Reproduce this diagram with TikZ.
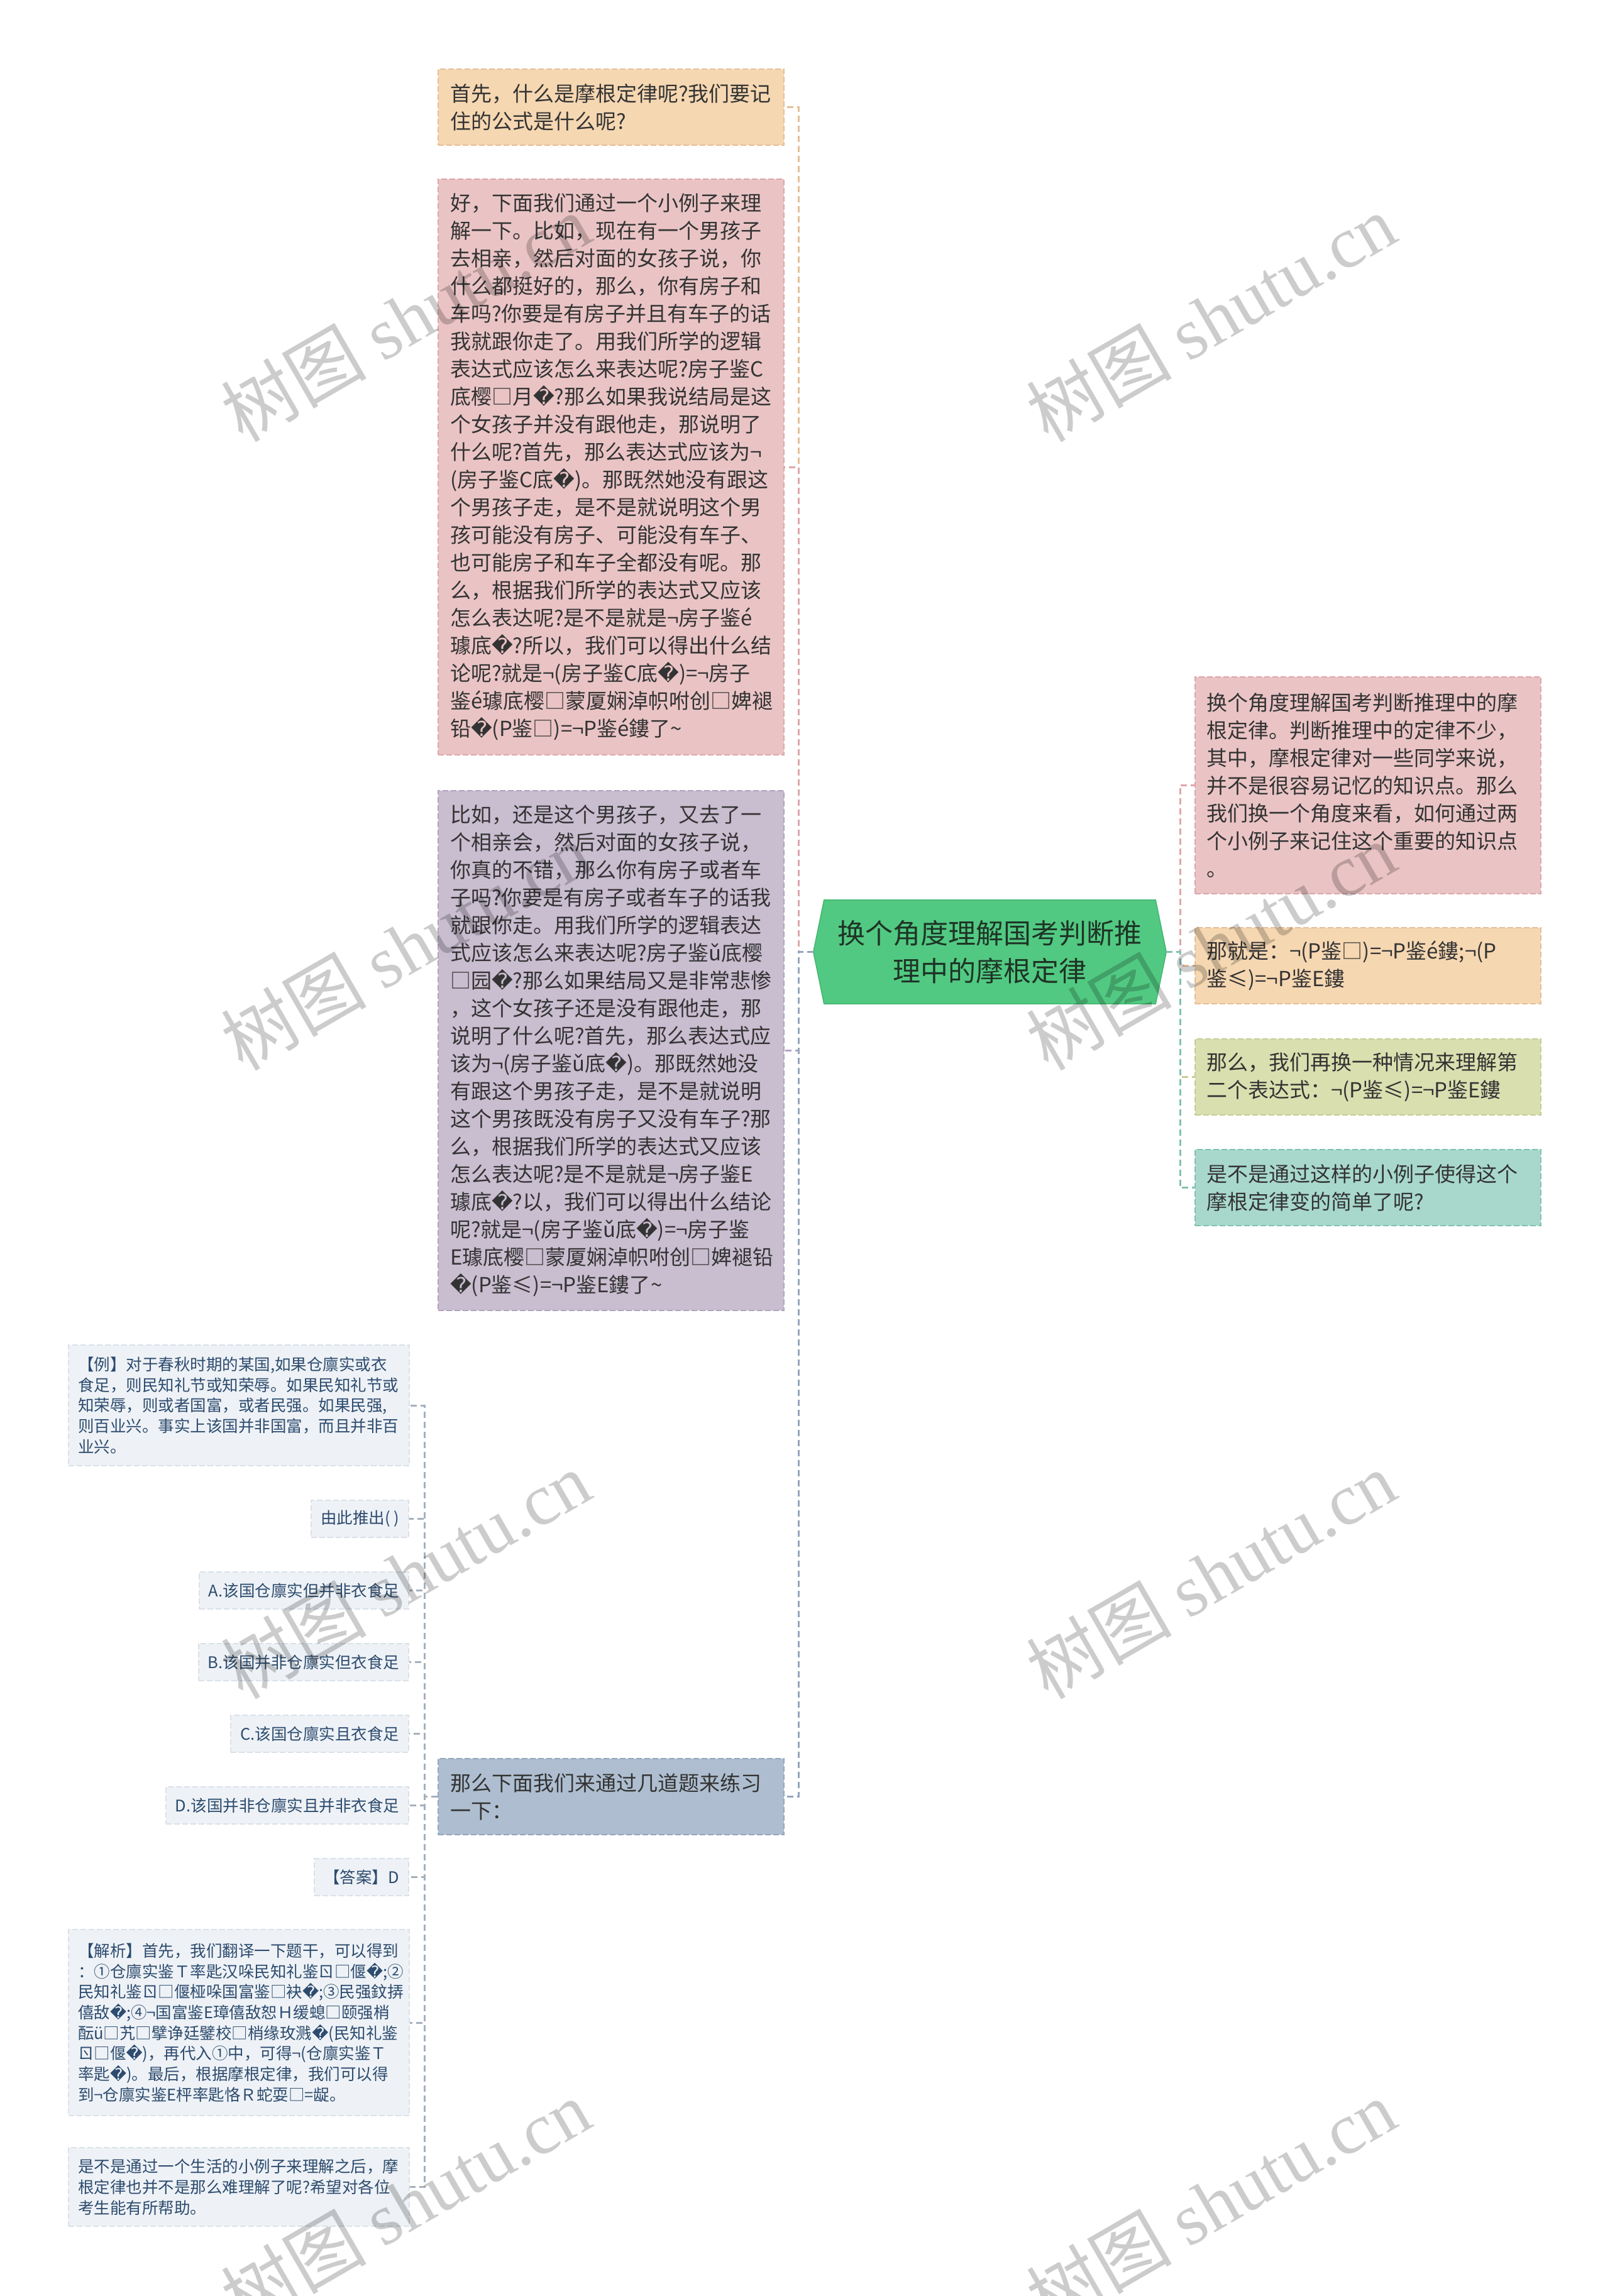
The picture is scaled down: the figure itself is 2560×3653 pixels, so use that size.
\documentclass[tikz,border=0pt]{standalone}
\usepackage{fontspec}
\setmainfont{Noto Sans CJK SC}
\newfontfamily\badfont{DejaVu Sans}
\newfontfamily\wmfont{Liberation Serif}
\newcommand\badch{{\badfont\char"FFFD}}
\usetikzlibrary{backgrounds}

\definecolor{peachfill}{RGB}{245,215,178}
\definecolor{peachline}{RGB}{230,190,150}
\definecolor{pinkfill}{RGB}{234,196,197}
\definecolor{pinkline}{RGB}{222,166,168}
\definecolor{lilacfill}{RGB}{201,189,208}
\definecolor{lilacline}{RGB}{178,163,190}
\definecolor{bluefill}{RGB}{174,190,208}
\definecolor{blueline}{RGB}{148,166,188}
\definecolor{khakifill}{RGB}{218,223,176}
\definecolor{khakiline}{RGB}{198,204,148}
\definecolor{tealfill}{RGB}{168,216,204}
\definecolor{tealline}{RGB}{128,193,178}
\definecolor{mistfill}{RGB}{238,242,246}
\definecolor{mistline}{RGB}{218,225,233}
\definecolor{mistlink}{RGB}{165,176,188}
\definecolor{mistink}{RGB}{45,75,110}
\definecolor{rootfill}{RGB}{82,201,130}
\definecolor{rootline}{RGB}{66,182,112}
\definecolor{rootink}{RGB}{30,52,38}
\definecolor{bodyink}{RGB}{51,51,51}

\tikzset{
  topic/.style={fill=#1fill, draw=#1line, line width=2pt, dash pattern=on 9pt off 4pt,
    inner xsep=19pt, inner ysep=0pt, text width=512pt, minimum width=550pt,
    align=left, text=bodyink, font=\fontsize{33}{44}\selectfont},
  leaf/.style={fill=mistfill, draw=mistline, line width=2pt, dash pattern=on 9pt off 4pt,
    inner xsep=15pt, inner ysep=0pt, align=left, text=mistink,
    font=\fontsize{25.5}{32.7}\selectfont},
  leafwide/.style={leaf, text width=512pt, minimum width=542pt},
  leafline/.style={leaf, anchor=east, minimum height=59pt},
  rootnode/.style={minimum width=561pt, minimum height=165pt, inner sep=0pt,
    align=center, text=rootink, font=\fontsize{44}{60}\selectfont},
  link/.style={draw=#1, line width=3pt, dash pattern=on 10pt off 6pt},
  wmark/.style={rotate=30, inner sep=0pt, text=black, text opacity=0.2,
    font=\fontsize{116}{116}\selectfont}
}

\begin{document}
\begin{tikzpicture}[x=1pt,y=-1pt]
\useasboundingbox (0,0) rectangle (2560,3653);

% Text Node
\node[rootnode] (root) at (1574.5,1514.5) {换个角度理解国考判断推\\理中的摩根定律};

% Text Node
\node[topic=peach, minimum height=121pt] (n1) at (972,170.5) {首先，什么是摩根定律呢?我们要记\\住的公式是什么呢?};
% Text Node
\node[topic=pink, minimum height=916pt] (n2) at (972,743) {好，下面我们通过一个小例子来理\\
解一下。比如，现在有一个男孩子\\
去相亲，然后对面的女孩子说，你\\
什么都挺好的，那么，你有房子和\\
车吗?你要是有房子并且有车子的话\\
我就跟你走了。用我们所学的逻辑\\
表达式应该怎么来表达呢?房子鉴C\\
底樱□月\badch?那么如果我说结局是这\\
个女孩子并没有跟他走，那说明了\\
什么呢?首先，那么表达式应该为¬\\
(房子鉴C底\badch)。那既然她没有跟这\\
个男孩子走，是不是就说明这个男\\
孩可能没有房子、可能没有车子、\\
也可能房子和车子全都没有呢。那\\
么，根据我们所学的表达式又应该\\
怎么表达呢?是不是就是¬房子鉴é\\
璩底\badch?所以，我们可以得出什么结\\
论呢?就是¬(房子鉴C底\badch)=¬房子\\
鉴é璩底樱□蒙厦娴淖帜咐创□婢褪\\
铅\badch(P鉴□)=¬P鉴é鏤了\textasciitilde};
% Text Node
\node[topic=lilac, minimum height=827pt] (n3) at (972,1671.5) {比如，还是这个男孩子，又去了一\\
个相亲会，然后对面的女孩子说，\\
你真的不错，那么你有房子或者车\\
子吗?你要是有房子或者车子的话我\\
就跟你走。用我们所学的逻辑表达\\
式应该怎么来表达呢?房子鉴ǔ底樱\\
□园\badch?那么如果结局又是非常悲惨\\
，这个女孩子还是没有跟他走，那\\
说明了什么呢?首先，那么表达式应\\
该为¬(房子鉴ǔ底\badch)。那既然她没\\
有跟这个男孩子走，是不是就说明\\
这个男孩既没有房子又没有车子?那\\
么，根据我们所学的表达式又应该\\
怎么表达呢?是不是就是¬房子鉴E\\
璩底\badch?以，我们可以得出什么结论\\
呢?就是¬(房子鉴ǔ底\badch)=¬房子鉴\\
E璩底樱□蒙厦娴淖帜咐创□婢褪铅\\
\badch(P鉴≤)=¬P鉴E鏤了\textasciitilde};
% Text Node
\node[topic=blue, minimum height=121pt] (n4) at (972,2858.5) {那么下面我们来通过几道题来练习\\一下：};

% Text Node
\node[topic=pink, minimum height=345pt] (r1) at (2175.5,1249.5) {换个角度理解国考判断推理中的摩\\根定律。判断推理中的定律不少，\\其中，摩根定律对一些同学来说，\\并不是很容易记忆的知识点。那么\\我们换一个角度来看，如何通过两\\个小例子来记住这个重要的知识点\\。};
% Text Node
\node[topic=peach, minimum height=121pt] (r2) at (2175.5,1536.5) {那就是：¬(P鉴□)=¬P鉴é鏤;¬(P\\鉴≤)=¬P鉴E鏤};
% Text Node
\node[topic=khaki, minimum height=121pt] (r3) at (2175.5,1713.5) {那么，我们再换一种情况来理解第\\二个表达式：¬(P鉴≤)=¬P鉴E鏤};
% Text Node
\node[topic=teal, minimum height=121pt] (r4) at (2175.5,1889.5) {是不是通过这样的小例子使得这个\\摩根定律变的简单了呢?};

% Text Node
\node[leafwide, minimum height=192pt] (b1) at (380,2236) {【例】对于春秋时期的某国,如果仓廪实或衣\\食足，则民知礼节或知荣辱。如果民知礼节或\\知荣辱，则或者国富，或者民强。如果民强,\\则百业兴。事实上该国并非国富，而且并非百\\业兴。};
\node[leafline] (b2) at (651,2416.5) {由此推出( )};
\node[leafline] (b3) at (651,2530.5) {A.该国仓廪实但并非衣食足};
\node[leafline] (b4) at (651,2644.5) {B.该国并非仓廪实但衣食足};
\node[leafline] (b5) at (651,2758.5) {C.该国仓廪实且衣食足};
\node[leafline] (b6) at (651,2872.5) {D.该国并非仓廪实且并非衣食足};
\node[leafline] (b7) at (651,2986.5) {【答案】D};
% Text Node
\node[leafwide, minimum height=296pt] (b8) at (380,3218) {【解析】首先，我们翻译一下题干，可以得到\\
：①仓廪实鉴Ｔ率匙汉哚民知礼鉴ㄖ□偃\badch;②\\
民知礼鉴ㄖ□偃桠哚国富鉴□袂\badch;③民强鈫挵\\
僖敌\badch;④¬国富鉴E璋僖敌恕Ｈ缓螅□颐强梢\\
酝ü□艽□擘诤廷鐾校□梢缘玫溅\badch(民知礼鉴\\
ㄖ□偃\badch)，再代入①中，可得¬(仓廪实鉴Ｔ\\
率匙\badch)。最后，根据摩根定律，我们可以得\\
到¬仓廪实鉴E枰率匙恪Ｒ蛇耍□=龊。};
% Text Node
\node[leafwide, minimum height=125pt] (b9) at (380,3479.5) {是不是通过一个生活的小例子来理解之后，摩\\根定律也并不是那么难理解了呢?希望对各位\\考生能有所帮助。};

%Shape: root background
\begin{scope}[on background layer]
\fill[white] (0,0) rectangle (2560,3653);
\filldraw[fill=rootfill, draw=rootline, line width=1.5pt] ([xshift=17pt]root.north west) -- ([xshift=-17pt]root.north east) -- (root.east) -- ([xshift=-17pt]root.south east) -- ([xshift=17pt]root.south west) -- (root.west) -- cycle;
\end{scope}

%Straight Lines
\coordinate (lspine) at (1270,1514.5);
\coordinate (rspine) at (1877,1514.5);
\coordinate (bspine) at (675,2858.5);
\draw[link=peachline] (root.west) -- (lspine) |- (n1.east);
\draw[link=pinkline] (root.west) -- (lspine) |- (n2.east);
\draw[link=lilacline] (root.west) -- (lspine) |- (n3.east);
\draw[link=blueline] (root.west) -- (lspine) |- (n4.east);
%Straight Lines
\draw[link=pinkline] (root.east) -- (rspine) |- (r1.west);
\draw[link=peachline] (root.east) -- (rspine) |- (r2.west);
\draw[link=khakiline] (root.east) -- (rspine) |- (r3.west);
\draw[link=tealline] (root.east) -- (rspine) |- (r4.west);
%Straight Lines
\draw[link=mistlink] (n4.west) -- (bspine) |- (b1.east);
\draw[link=mistlink] (n4.west) -- (bspine) |- (b2.east);
\draw[link=mistlink] (n4.west) -- (bspine) |- (b3.east);
\draw[link=mistlink] (n4.west) -- (bspine) |- (b4.east);
\draw[link=mistlink] (n4.west) -- (bspine) |- (b5.east);
\draw[link=mistlink] (n4.west) -- (bspine) |- (b6.east);
\draw[link=mistlink] (n4.west) -- (bspine) |- (b7.east);
\draw[link=mistlink] (n4.west) -- (bspine) |- (b8.east);
\draw[link=mistlink] (n4.west) -- (bspine) |- (b9.east);

% Text Node
\node[wmark] (wm1) at (645,505) {树图 {\wmfont shutu.cn}};
\node[wmark] (wm2) at (1926,505) {树图 {\wmfont shutu.cn}};
\node[wmark] (wm3) at (645,1505) {树图 {\wmfont shutu.cn}};
\node[wmark] (wm4) at (1926,1505) {树图 {\wmfont shutu.cn}};
\node[wmark] (wm5) at (645,2505) {树图 {\wmfont shutu.cn}};
\node[wmark] (wm6) at (1926,2505) {树图 {\wmfont shutu.cn}};
\node[wmark] (wm7) at (645,3505) {树图 {\wmfont shutu.cn}};
\node[wmark] (wm8) at (1926,3505) {树图 {\wmfont shutu.cn}};
\end{tikzpicture}
\end{document}
